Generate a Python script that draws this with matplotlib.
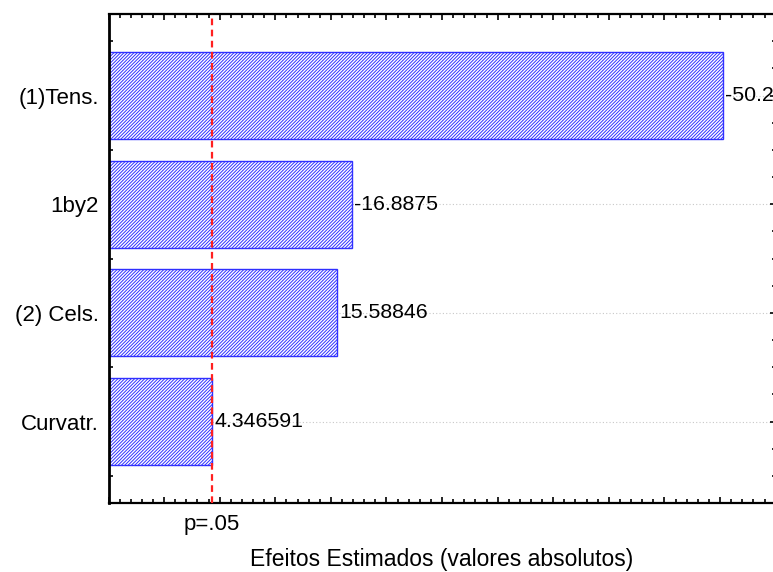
import matplotlib.pyplot as plt
from matplotlib.ticker import MultipleLocator, NullFormatter
import matplotlib.transforms as mtransforms

plt.rcParams["font.family"] = ["Liberation Sans", "DejaVu Sans"]
plt.rcParams["hatch.linewidth"] = 0.7

# Pareto chart of standardized effects
factors = ["(1)Tens.", "1by2", "(2) Cels.", "Curvatr."]
effects = [-50.2292, -16.8875, 15.58846, 4.346591]
labels = ["-50.2292", "-16.8875", "15.58846", "4.346591"]
t_crit = 4.303
x_min, x_max = -5, 55

fig = plt.figure(figsize=(7.73, 5.72), dpi=100)
ax = fig.add_axes([0.1404, 0.1206, 0.8630, 0.8549])

pos = list(range(len(factors)))
widths = [abs(e) - x_min for e in effects]
ax.barh(pos, widths, left=x_min, height=0.8, color="white",
        edgecolor="#3030ff", hatch="//////////", linewidth=1.0, zorder=2)

for p, e, lab in zip(pos, effects, labels):
    ax.text(abs(e) + 0.2, p, lab, ha="left", va="center", fontsize=15.3,
            zorder=3, clip_on=False)

ax.axvline(t_crit, color="#ff2020", linestyle=(0, (3, 2)), linewidth=1.6, zorder=4)

ax.set_xlim(x_min, x_max)
ax.set_ylim(3.75, -0.75)
ax.set_yticks(pos)
ax.set_yticklabels(factors, fontsize=16)
ax.yaxis.set_minor_locator(MultipleLocator(0.25))
ax.xaxis.set_major_locator(MultipleLocator(5))
ax.xaxis.set_minor_locator(MultipleLocator(1))
ax.xaxis.set_major_formatter(NullFormatter())

ax.tick_params(which="both", direction="in", top=True, right=True, width=1.2)
ax.tick_params(which="major", length=4)
ax.tick_params(which="minor", length=3)
ax.tick_params(axis="y", pad=7)

ax.grid(axis="y", which="major", color="#c8c8c8", linestyle=(0, (1, 2)), linewidth=0.8, zorder=0)
ax.set_axisbelow(True)

for side in ax.spines:
    ax.spines[side].set_linewidth(1.6)
ax.spines["left"].set_linewidth(2.0)

trans = mtransforms.blended_transform_factory(ax.transData, ax.transAxes)
ax.text(t_crit, -0.022, "p=.05", transform=trans, ha="center", va="top", fontsize=16)
ax.set_xlabel("Efeitos Estimados (valores absolutos)", fontsize=16.5, labelpad=29)

fig.savefig("out.png", dpi=100)
